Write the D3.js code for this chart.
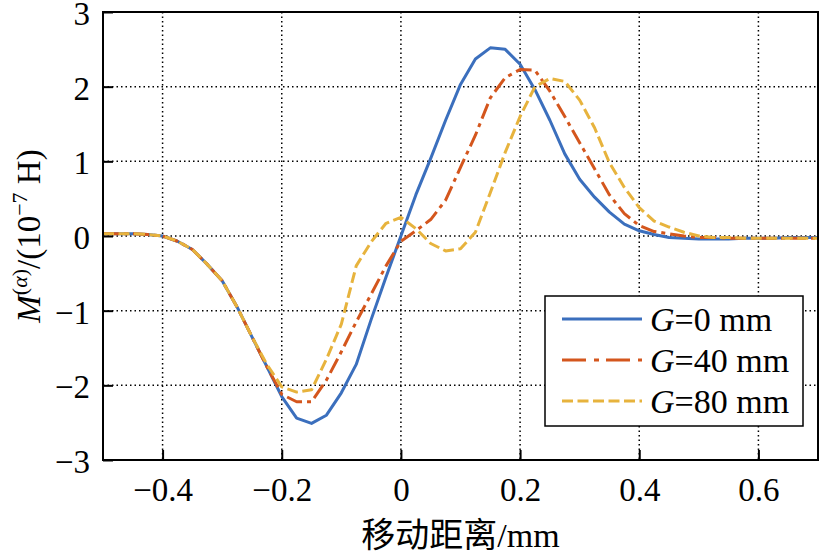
<!DOCTYPE html>
<html>
<head>
<meta charset="utf-8">
<script src="https://cdn.jsdelivr.net/npm/d3@7"></script>
<style>
  html, body { margin: 0; padding: 0; background: #fff; }
  svg { display: block; }
  text { font-family: "Liberation Serif", "Times New Roman", "Noto Sans CJK SC", serif; fill: #000; }
</style>
</head>
<body>
<svg id="chart" width="820" height="556"></svg>
<script>
// ---- data ----
const xs = [-0.5, -0.475, -0.45, -0.425, -0.4, -0.375, -0.35, -0.325, -0.3, -0.275,
            -0.25, -0.225, -0.2, -0.175, -0.15, -0.125, -0.1, -0.075, -0.05, -0.025,
            0, 0.025, 0.05, 0.075, 0.1, 0.125, 0.15, 0.175, 0.2, 0.225,
            0.25, 0.275, 0.3, 0.325, 0.35, 0.375, 0.4, 0.425, 0.45, 0.475,
            0.5, 0.525, 0.55, 0.575, 0.6, 0.625, 0.65, 0.675, 0.7];
const g0 = [0.03, 0.03, 0.03, 0.02, 0.0, -0.07, -0.18, -0.38, -0.6, -0.95,
            -1.35, -1.75, -2.15, -2.44, -2.51, -2.4, -2.1, -1.72, -1.12, -0.55,
            0.0, 0.55, 1.04, 1.55, 2.03, 2.37, 2.52, 2.5, 2.3, 1.96,
            1.55, 1.1, 0.76, 0.52, 0.32, 0.16, 0.07, 0.02, -0.02, -0.03,
            -0.04, -0.04, -0.04, -0.03, -0.03, -0.03, -0.02, -0.02, -0.02];
const g40 = [0.03, 0.03, 0.03, 0.02, 0.0, -0.07, -0.18, -0.38, -0.6, -0.95,
            -1.35, -1.75, -2.12, -2.22, -2.22, -1.93, -1.55, -1.15, -0.78, -0.4,
            -0.07, 0.07, 0.22, 0.48, 0.92, 1.35, 1.85, 2.12, 2.23, 2.22,
            1.94, 1.6, 1.25, 0.9, 0.55, 0.3, 0.14, 0.06, 0.03, 0.0,
            -0.02, -0.02, -0.03, -0.03, -0.03, -0.03, -0.03, -0.03, -0.03];
const g80 = [0.03, 0.03, 0.03, 0.02, 0.0, -0.07, -0.18, -0.38, -0.6, -0.95,
            -1.35, -1.72, -2.02, -2.09, -2.06, -1.65, -1.18, -0.4, -0.08, 0.17,
            0.25, 0.1, -0.1, -0.2, -0.17, 0.05, 0.58, 1.12, 1.6, 2.0,
            2.11, 2.07, 1.82, 1.45, 0.98, 0.65, 0.38, 0.2, 0.12, 0.05,
            0.0, -0.02, -0.02, -0.03, -0.03, -0.03, -0.03, -0.03, -0.03];
const seriesNames = ["G=0 mm", "G=40 mm", "G=80 mm"];
const xTicks = [-0.4, -0.2, 0, 0.2, 0.4, 0.6];
const yTicks = [-3, -2, -1, 0, 1, 2, 3];

// ---- styles ----
const colors = ["#3b6fbd", "#d4561d", "#e7b33d"];
const dashes = [null, "16,5,4,5", "11,4.5"];
const legendDashes = [null, "24,8,5,7", "11,4.5"];

const svg = d3.select("#chart");
const L = 103, R = 818, T = 12, B = 460;
const x = d3.scaleLinear().domain([-0.5, 0.7]).range([L, R]);
const y = d3.scaleLinear().domain([-3, 3]).range([B, T]);

// grid
const grid = svg.append("g").attr("stroke", "#000").attr("stroke-width", 1.5)
  .attr("stroke-dasharray", "1.5,3");
xTicks.forEach(v => grid.append("line")
  .attr("x1", x(v)).attr("x2", x(v)).attr("y1", T).attr("y2", B));
yTicks.filter(v => v > -3 && v < 3).forEach(v => grid.append("line")
  .attr("x1", L).attr("x2", R).attr("y1", y(v)).attr("y2", y(v)));

// curves
const allSeries = [g0, g40, g80];
const line = d3.line().x(d => x(d[0])).y(d => y(d[1]));
allSeries.forEach((s, i) => {
  svg.append("path")
    .datum(xs.map((xv, k) => [xv, s[k]]))
    .attr("d", line)
    .attr("fill", "none")
    .attr("stroke", colors[i])
    .attr("stroke-width", 3)
    .attr("stroke-linejoin", "round")
    .attr("stroke-dasharray", dashes[i]);
});

// axes
const fmtX = d => d === 0 ? "0" : d3.format(".1f")(d);
const xAxis = svg.append("g").attr("transform", `translate(0,${B})`)
  .call(d3.axisBottom(x).tickValues(xTicks).tickFormat(fmtX).tickSize(-10).tickSizeOuter(0).tickPadding(18));
const yAxis = svg.append("g").attr("transform", `translate(${L},0)`)
  .call(d3.axisLeft(y).tickValues(yTicks).tickFormat(d3.format("d")).tickSize(-10).tickSizeOuter(0).tickPadding(13));
[xAxis, yAxis].forEach(a => {
  a.select(".domain").remove();
  a.selectAll(".tick line").attr("stroke", "#000").attr("stroke-width", 2);
  a.selectAll(".tick text").attr("font-size", 33)
    .style("font-family", "'Liberation Serif', 'Times New Roman', serif");
});
yAxis.selectAll(".tick text").attr("dy", "0.38em");
// frame
svg.append("rect").attr("x", L).attr("y", T).attr("width", R - L).attr("height", B - T)
  .attr("fill", "none").attr("stroke", "#000").attr("stroke-width", 2);

// legend
const lg = svg.append("g");
lg.append("rect").attr("x", 545).attr("y", 296).attr("width", 258).attr("height", 130)
  .attr("fill", "#fff").attr("stroke", "#000").attr("stroke-width", 1.5);
const rowsY = [319, 360, 401];
seriesNames.forEach((name, i) => {
  lg.append("line").attr("x1", 562).attr("x2", 642).attr("y1", rowsY[i]).attr("y2", rowsY[i])
    .attr("stroke", colors[i]).attr("stroke-width", 3).attr("stroke-dasharray", legendDashes[i]);
  const t = lg.append("text").attr("x", 650).attr("y", rowsY[i] + 12).attr("font-size", 34);
  const parts = name.split("=");
  t.append("tspan").attr("font-style", "italic").text(parts[0]);
  t.append("tspan").text("=" + parts[1]);
});

// axis titles
svg.append("text").attr("x", (L + R) / 2).attr("y", 547).attr("text-anchor", "middle")
  .attr("font-size", 34).text("移动距离/mm");

const yl = svg.append("text").attr("transform", `translate(40,${(T + B) / 2}) rotate(-90)`)
  .attr("text-anchor", "middle").attr("font-size", 33);
yl.append("tspan").attr("font-style", "italic").text("M");
yl.append("tspan").attr("font-size", 22).attr("dy", -13).text("(");
yl.append("tspan").attr("font-size", 22).attr("font-style", "italic").text("α");
yl.append("tspan").attr("font-size", 22).text(")");
yl.append("tspan").attr("dy", 13).text("/(10");
yl.append("tspan").attr("font-size", 22).attr("dy", -13).text("−7");
yl.append("tspan").attr("dy", 13).text(" H)");
</script>
</body>
</html>
